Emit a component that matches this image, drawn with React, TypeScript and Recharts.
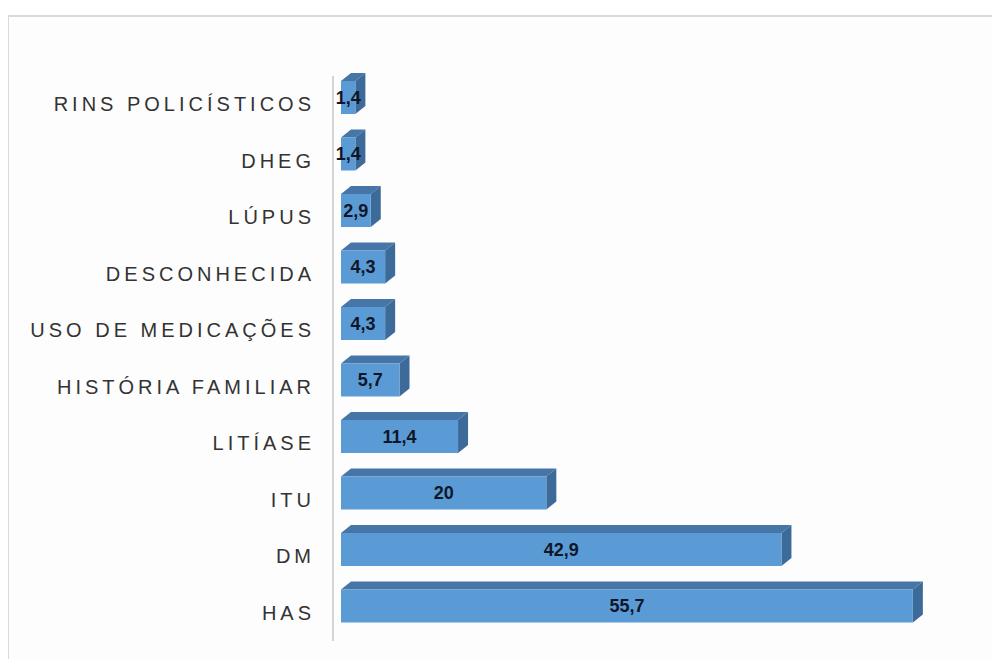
import React from "react";
import { BarChart, Bar, XAxis, YAxis, LabelList } from "recharts";

const categories = [
  "RINS POLICÍSTICOS",
  "DHEG",
  "LÚPUS",
  "DESCONHECIDA",
  "USO DE MEDICAÇÕES",
  "HISTÓRIA FAMILIAR",
  "LITÍASE",
  "ITU",
  "DM",
  "HAS",
];
const values = [1.4, 1.4, 2.9, 4.3, 4.3, 5.7, 11.4, 20, 42.9, 55.7];

const data = categories.map((name, i) => ({ name, value: values[i] }));

const OFFSET_X = 8;
const SHIFT_Y = -7;
const DX = 10;
const DY = -8;

const Bar3D = (props: any) => {
  const { x, y, width, height } = props;
  if (width == null || height == null) return null;
  const x0 = x + OFFSET_X;
  const y0 = y + SHIFT_Y;
  const w = width;
  const h = height;
  return (
    <g>
      <polygon
        points={`${x0},${y0} ${x0 + DX},${y0 + DY} ${x0 + w + DX},${y0 + DY} ${x0 + w},${y0}`}
        fill="#4676a8"
      />
      <polygon
        points={`${x0 + w},${y0} ${x0 + w + DX},${y0 + DY} ${x0 + w + DX},${y0 + h + DY} ${x0 + w},${y0 + h}`}
        fill="#3c6a99"
      />
      <rect x={x0} y={y0} width={w} height={h} fill="#5b9bd5" />
    </g>
  );
};

const ValueLabel = (props: any) => {
  const { x, y, width, height, value } = props;
  const cx = x + OFFSET_X + width / 2;
  const cy = y + SHIFT_Y + height / 2;
  return (
    <text
      x={cx}
      y={cy}
      dy="0.36em"
      textAnchor="middle"
      fontFamily="'Liberation Sans', Arial, sans-serif"
      fontWeight="bold"
      fontSize={18}
      fill="#0f1628"
    >
      {String(value).replace(".", ",")}
    </text>
  );
};

const CatTick = (props: any) => {
  const { x, y, payload } = props;
  return (
    <text
      x={x - 10}
      y={y}
      dy="0.35em"
      textAnchor="end"
      fontFamily="'Liberation Sans', Arial, sans-serif"
      fontSize={20}
      letterSpacing={4}
      fill="#333333"
    >
      {payload.value}
    </text>
  );
};

export default function App() {
  return (
    <div style={{ position: "relative", width: 992, height: 651, overflow: "hidden", background: "#ffffff" }}>
      <div
        style={{
          position: "absolute",
          top: 7,
          left: -1,
          width: 1200,
          height: 900,
          border: "2px solid #d9d9d9",
          boxSizing: "border-box",
          background: "#fdfdfd",
        }}
      />
      <div style={{ position: "absolute", top: 0, left: 0 }}>
        <BarChart
          width={984}
          height={650}
          data={data}
          layout="vertical"
          margin={{ top: 68, right: 43, bottom: 17, left: 0 }}
          barSize={33}
        >
          <XAxis type="number" domain={[0, 60]} hide />
          <YAxis
            type="category"
            dataKey="name"
            width={325}
            axisLine={{ stroke: "#d4d4d4", strokeWidth: 2 }}
            tickLine={false}
            tick={<CatTick />}
            interval={0}
          />
          <Bar dataKey="value" shape={<Bar3D />} isAnimationActive={false}>
            <LabelList dataKey="value" content={<ValueLabel />} />
          </Bar>
        </BarChart>
      </div>
    </div>
  );
}
